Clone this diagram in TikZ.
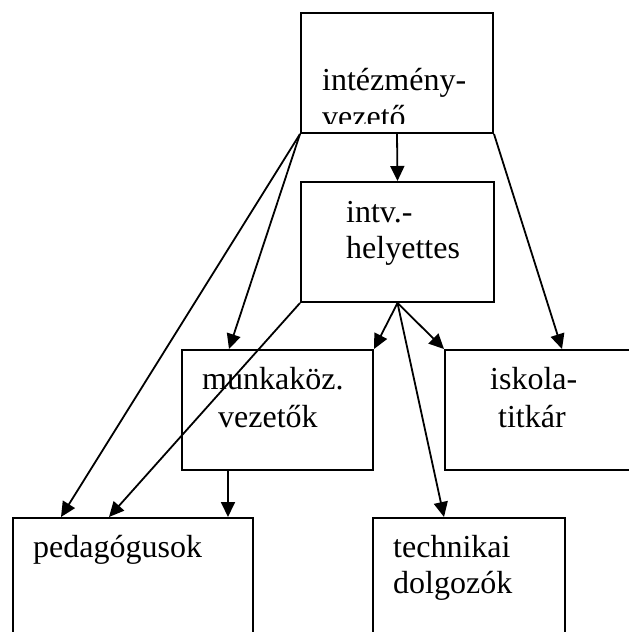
\documentclass[tikz,border=0pt]{standalone}
\usepackage{fontspec}
\setmainfont{Liberation Serif}
\usetikzlibrary{arrows.meta}

\tikzset{
  box/.style={draw, line width=2pt, rectangle, inner sep=0pt,
    minimum width=#1, minimum height=120pt},
  box/.default=192pt,
  txt/.style={inner sep=0pt, anchor=base west, font=\fontsize{32}{36}\selectfont},
  arr/.style={line width=1.8pt, -{Triangle[length=15pt,width=14pt]}},
}

\begin{document}
\begin{tikzpicture}[x=1pt,y=-1pt]
\clip (0,0) rectangle (629,632);

\node[box] (ved) at (397,73) {};
\node[box=193pt] (hely) at (397.5,242) {};
\node[box=191pt] (mkv) at (277.5,410) {};
\node[box=200pt] (titk) at (545,410) {};
\node[box=240pt] (ped) at (133,578) {};
\node[box] (tech) at (469,578) {};

% texts
\begin{scope}
\clip (301,13) rectangle (493,123);
\node[txt] (ved1) at (322,90) {intézmény-};
\node[txt] (ved2) at (322,127) {vezető};
\end{scope}
\node[txt] (hely1) at (346,222) {intv.-};
\node[txt] (hely2) at (346,258) {helyettes};
\node[txt] (mkv1) at (202,389) {munkaköz.};
\node[txt] (mkv2) at (218,427) {vezetők};
\node[txt] (titk1) at (490,389) {iskola-};
\node[txt] (titk2) at (498,427) {titkár};
\node[txt] (ped1) at (33,557) {pedagógusok};
\node[txt] (tech1) at (393,557) {technikai};
\node[txt] (tech2) at (393,593) {dolgozók};

% connectors
\draw[arr] (ved.south) -- (hely.north);
\draw[arr] (ved.south west) -- ([xshift=49pt]ped.north west);
\draw[arr] (ved.south west) -- ([xshift=48pt]mkv.north west);
\draw[arr] (ved.south east) -- ([xshift=118pt]titk.north west);
\draw[arr] (hely.south west) -- ([xshift=97pt]ped.north west);
\draw[arr] (hely.south) -- (mkv.north east);
\draw[arr] (hely.south) -- (titk.north west);
\draw[arr] (hely.south) -- ([xshift=72pt]tech.north west);
\draw[arr] ([xshift=47pt]mkv.south west) -- ([xshift=216pt]ped.north west);
\end{tikzpicture}
\end{document}
